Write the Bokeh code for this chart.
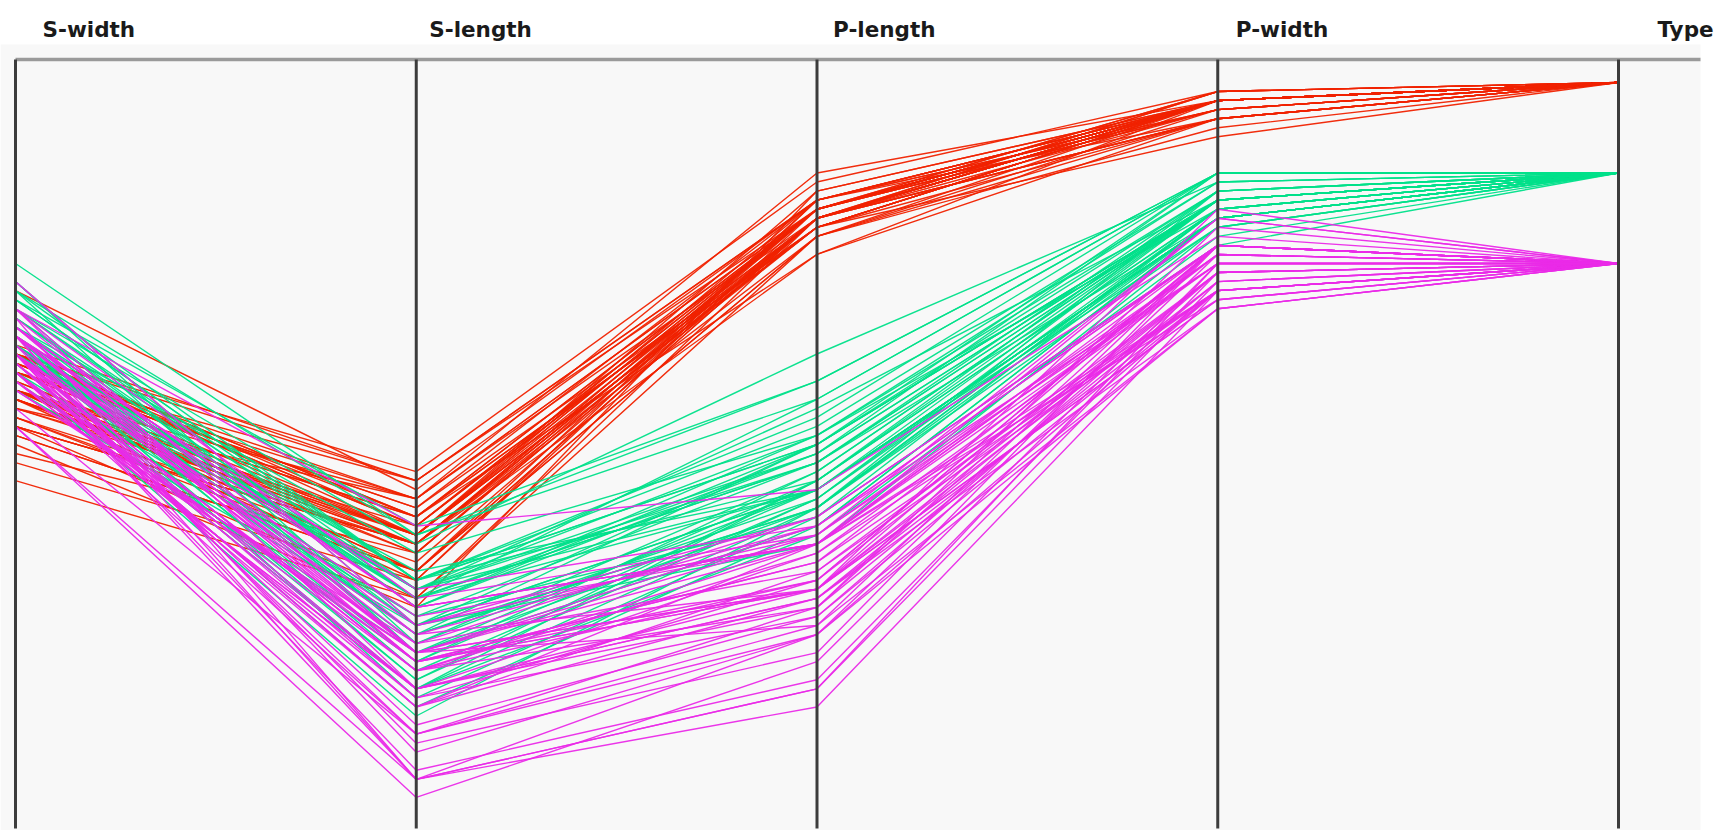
from bokeh.plotting import figure
from bokeh.models import Range1d
from bokeh.core.properties import value
from bokeh.embed import file_html
from bokeh.resources import INLINE

# Iris measurements (cm), 50 rows per species: setosa, versicolor, virginica
sepal_length = [
    5.1, 4.9, 4.7, 4.6, 5.0, 5.4, 4.6, 5.0, 4.4, 4.9, 5.4, 4.8, 4.8, 4.3, 5.8, 5.7, 5.4, 5.1, 5.7, 5.1,
    5.4, 5.1, 4.6, 5.1, 4.8, 5.0, 5.0, 5.2, 5.2, 4.7, 4.8, 5.4, 5.2, 5.5, 4.9, 5.0, 5.5, 4.9, 4.4, 5.1,
    5.0, 4.5, 4.4, 5.0, 5.1, 4.8, 5.1, 4.6, 5.3, 5.0,
    7.0, 6.4, 6.9, 5.5, 6.5, 5.7, 6.3, 4.9, 6.6, 5.2, 5.0, 5.9, 6.0, 6.1, 5.6, 6.7, 5.6, 5.8, 6.2, 5.6,
    5.9, 6.1, 6.3, 6.1, 6.4, 6.6, 6.8, 6.7, 6.0, 5.7, 5.5, 5.5, 5.8, 6.0, 5.4, 6.0, 6.7, 6.3, 5.6, 5.5,
    5.5, 6.1, 5.8, 5.0, 5.6, 5.7, 5.7, 6.2, 5.1, 5.7,
    6.3, 5.8, 7.1, 6.3, 6.5, 7.6, 4.9, 7.3, 6.7, 7.2, 6.5, 6.4, 6.8, 5.7, 5.8, 6.4, 6.5, 7.7, 7.7, 6.0,
    6.9, 5.6, 7.7, 6.3, 6.7, 7.2, 6.2, 6.1, 6.4, 7.2, 7.4, 7.9, 6.4, 6.3, 6.1, 7.7, 6.3, 6.4, 6.0, 6.9,
    6.7, 6.9, 5.8, 6.8, 6.7, 6.7, 6.3, 6.5, 6.2, 5.9,
]
sepal_width = [
    3.5, 3.0, 3.2, 3.1, 3.6, 3.9, 3.4, 3.4, 2.9, 3.1, 3.7, 3.4, 3.0, 3.0, 4.0, 4.4, 3.9, 3.5, 3.8, 3.8,
    3.4, 3.7, 3.6, 3.3, 3.4, 3.0, 3.4, 3.5, 3.4, 3.2, 3.1, 3.4, 4.1, 4.2, 3.1, 3.2, 3.5, 3.6, 3.0, 3.4,
    3.5, 2.3, 3.2, 3.5, 3.8, 3.0, 3.8, 3.2, 3.7, 3.3,
    3.2, 3.2, 3.1, 2.3, 2.8, 2.8, 3.3, 2.4, 2.9, 2.7, 2.0, 3.0, 2.2, 2.9, 2.9, 3.1, 3.0, 2.7, 2.2, 2.5,
    3.2, 2.8, 2.5, 2.8, 2.9, 3.0, 2.8, 3.0, 2.9, 2.6, 2.4, 2.4, 2.7, 2.7, 3.0, 3.4, 3.1, 2.3, 3.0, 2.5,
    2.6, 3.0, 2.6, 2.3, 2.7, 3.0, 2.9, 2.9, 2.5, 2.8,
    3.3, 2.7, 3.0, 2.9, 3.0, 3.0, 2.5, 2.9, 2.5, 3.6, 3.2, 2.7, 3.0, 2.5, 2.8, 3.2, 3.0, 3.8, 2.6, 2.2,
    3.2, 2.8, 2.8, 2.7, 3.3, 3.2, 2.8, 3.0, 2.8, 3.0, 2.8, 3.8, 2.8, 2.8, 2.6, 3.0, 3.4, 3.1, 3.0, 3.1,
    3.1, 3.1, 2.7, 3.2, 3.3, 3.0, 2.5, 3.0, 3.4, 3.0,
]
petal_length = [
    1.4, 1.4, 1.3, 1.5, 1.4, 1.7, 1.4, 1.5, 1.4, 1.5, 1.5, 1.6, 1.4, 1.1, 1.2, 1.5, 1.3, 1.4, 1.7, 1.5,
    1.7, 1.5, 1.0, 1.7, 1.9, 1.6, 1.6, 1.5, 1.4, 1.6, 1.6, 1.5, 1.5, 1.4, 1.5, 1.2, 1.3, 1.4, 1.3, 1.5,
    1.3, 1.3, 1.3, 1.6, 1.9, 1.4, 1.6, 1.4, 1.5, 1.4,
    4.7, 4.5, 4.9, 4.0, 4.6, 4.5, 4.7, 3.3, 4.6, 3.9, 3.5, 4.2, 4.0, 4.7, 3.6, 4.4, 4.5, 4.1, 4.5, 3.9,
    4.8, 4.0, 4.9, 4.7, 4.3, 4.4, 4.8, 5.0, 4.5, 3.5, 3.8, 3.7, 3.9, 5.1, 4.5, 4.5, 4.7, 4.4, 4.1, 4.0,
    4.4, 4.6, 4.0, 3.3, 4.2, 4.2, 4.2, 4.3, 3.0, 4.1,
    6.0, 5.1, 5.9, 5.6, 5.8, 6.6, 4.5, 6.3, 5.8, 6.1, 5.1, 5.3, 5.5, 5.0, 5.1, 5.3, 5.5, 6.7, 6.9, 5.0,
    5.7, 4.9, 6.7, 4.9, 5.7, 6.0, 4.8, 4.9, 5.6, 5.8, 6.1, 6.4, 5.6, 5.1, 5.6, 6.1, 5.6, 5.5, 4.8, 5.4,
    5.6, 5.1, 5.1, 5.9, 5.7, 5.2, 5.0, 5.2, 5.4, 5.1,
]
petal_width = [
    0.2, 0.2, 0.2, 0.2, 0.2, 0.4, 0.3, 0.2, 0.2, 0.1, 0.2, 0.2, 0.1, 0.1, 0.2, 0.4, 0.4, 0.3, 0.3, 0.3,
    0.2, 0.4, 0.2, 0.5, 0.2, 0.2, 0.4, 0.2, 0.2, 0.2, 0.2, 0.4, 0.1, 0.2, 0.2, 0.2, 0.2, 0.1, 0.2, 0.2,
    0.3, 0.3, 0.2, 0.6, 0.4, 0.3, 0.2, 0.2, 0.2, 0.2,
    1.4, 1.5, 1.5, 1.3, 1.5, 1.3, 1.6, 1.0, 1.3, 1.4, 1.0, 1.5, 1.0, 1.4, 1.3, 1.4, 1.5, 1.0, 1.5, 1.1,
    1.8, 1.3, 1.5, 1.2, 1.3, 1.4, 1.4, 1.7, 1.5, 1.0, 1.1, 1.0, 1.2, 1.6, 1.5, 1.6, 1.5, 1.3, 1.3, 1.3,
    1.2, 1.4, 1.2, 1.0, 1.3, 1.2, 1.3, 1.3, 1.1, 1.3,
    2.5, 1.9, 2.1, 1.8, 2.2, 2.1, 1.7, 1.8, 1.8, 2.5, 2.0, 1.9, 2.1, 2.0, 2.4, 2.3, 1.8, 2.2, 2.3, 1.5,
    2.3, 2.0, 2.0, 1.8, 2.1, 1.8, 1.8, 1.8, 2.1, 1.6, 1.9, 2.0, 2.2, 1.5, 1.4, 2.3, 2.4, 1.8, 1.8, 2.1,
    2.4, 2.3, 1.9, 2.3, 2.5, 2.3, 1.9, 2.0, 2.3, 1.8,
]
# species code: 0 setosa, 1 versicolor, 2 virginica
species_type = [0] * 50 + [1] * 50 + [2] * 50

axis_names = ["S-width", "S-length", "P-length", "P-width", "Type"]
type_colors = ["#f02200", "#00e08a", "#ea2ae8"]

# Layout of the parallel axes (pixels)
W, H = 1735, 830
AX_LEFT, AX_STEP = 15.0, 400.75        # x of first axis and spacing
Y0, Y_SCALE = 82.0, 90.5               # pixel row of value 0, pixels per unit

def vx(px):
    return (px - AX_LEFT) / AX_STEP

def vy(py):
    return (py - Y0) / Y_SCALE

p = figure(width=W, height=H, output_backend="svg", toolbar_location=None,
           x_range=Range1d(vx(0), vx(W)), y_range=Range1d(vy(H), vy(0)),
           min_border=0, outline_line_color=None,
           background_fill_color="white", border_fill_color="white")
p.axis.visible = False
p.grid.visible = False

n_axes = len(axis_names)
top_y = vy(59)
bottom_y = vy(828)
right_x = vx(1700)

# light panel behind the axes
p.quad(left=vx(0), right=right_x, top=vy(44), bottom=vy(H), fill_color="#f8f8f8", line_color=None)

# polylines, one per flower
xs, ys, cols = [], [], []
for i in range(len(species_type)):
    xs.append(list(range(n_axes)))
    ys.append([sepal_width[i], sepal_length[i], petal_length[i], petal_width[i], species_type[i]])
    cols.append(type_colors[species_type[i]])
p.multi_line(xs=xs, ys=ys, line_color=cols, line_width=1.4, line_alpha=0.95)

# top rule and vertical axes
p.segment(x0=[0], y0=[top_y], x1=[right_x], y1=[top_y], line_color="#9a9a9a", line_width=3.5)
p.segment(x0=list(range(n_axes)), y0=[top_y] * n_axes, x1=list(range(n_axes)), y1=[bottom_y] * n_axes,
          line_color="#3c3c3c", line_width=3)

# axis headers
label_offsets = [27, 13, 16, 18, 39]
p.text(x=list(range(n_axes)), y=[vy(29)] * n_axes, text=axis_names,
       x_offset=label_offsets, text_align="left", text_baseline="alphabetic",
       text_font=value("DejaVu Sans"), text_font_style="bold", text_font_size="21.5px",
       text_color="#1a1a1a")

open("out.html", "w").write(file_html(p, INLINE))
